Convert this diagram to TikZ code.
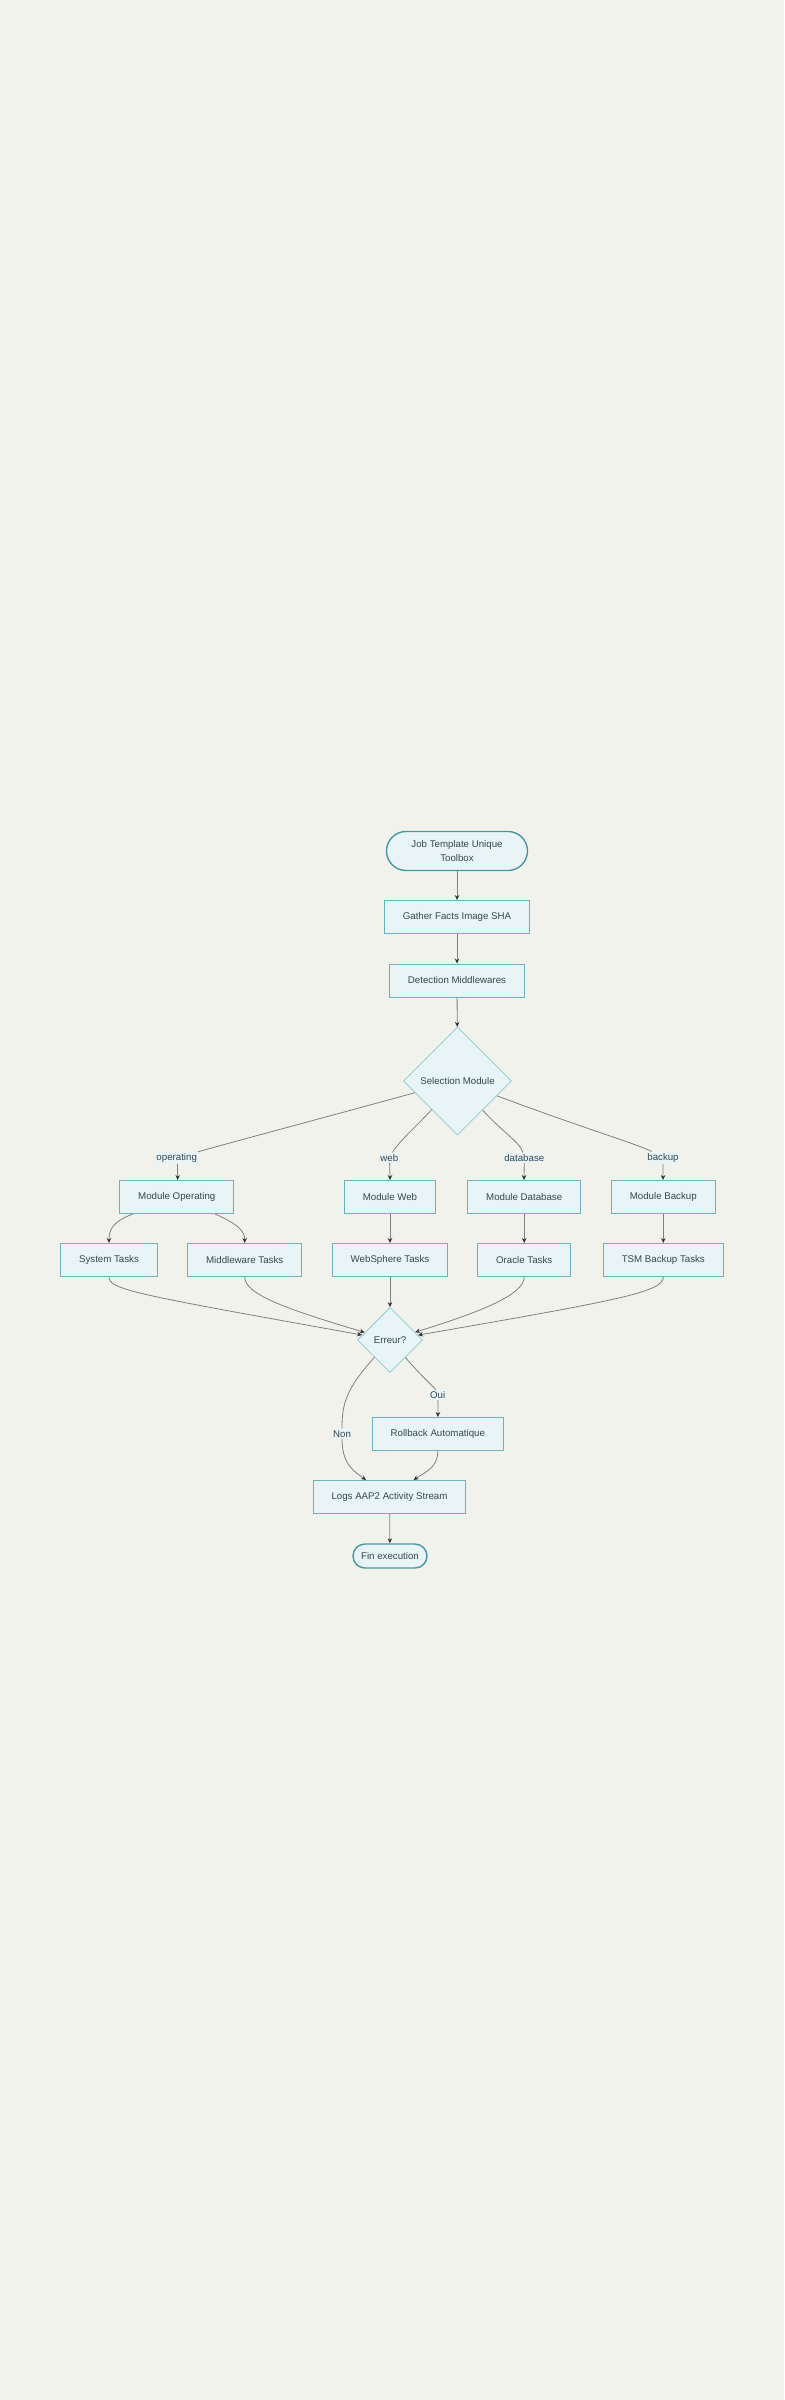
\documentclass[tikz,border=0pt]{standalone}
\usepackage{fontspec}
\setmainfont{Liberation Sans}
\usetikzlibrary{shapes.geometric,arrows.meta}
\definecolor{bgcol}{HTML}{F2F2ED}
\definecolor{nodefill}{HTML}{E8F4F5}
\definecolor{boxline}{HTML}{6DB2BC}
\definecolor{termline}{HTML}{4A97A2}
\definecolor{diamline}{HTML}{8ECAD2}
\definecolor{txtcol}{HTML}{37474F}
\definecolor{edgecol}{HTML}{808080}
\definecolor{tipcol}{HTML}{333333}
\begin{document}
\begin{tikzpicture}[x=1pt,y=-1pt,
    every node/.style={font=\fontsize{9.7}{14.7}\selectfont,text=txtcol},
    box/.style={draw=boxline,line width=1pt,fill=nodefill,inner xsep=18.5pt,minimum height=33pt},
    term/.style={draw=termline,line width=1.4pt,fill=nodefill,align=center},
    choice/.style={diamond,draw=diamline,line width=0.8pt,fill=nodefill,inner sep=0pt},
    lbl/.style={fill=nodefill,inner xsep=0.5pt,inner ysep=1.5pt},
    edge/.style={draw=edgecol,line width=0.8pt},
    arr/.style={edge,-{Stealth[length=5pt,width=4.5pt,color=tipcol]}}]
\fill [bgcol] (0,0) rectangle (784,2400);
\useasboundingbox (0,0) rectangle (784,2400);
\node [term,rounded corners=19.5pt,minimum width=141pt,minimum height=39pt] (start) at (457,851) {Job Template Unique\\Toolbox};
\node [box] (gather) at (457,917) {Gather Facts Image SHA};
\node [box] (detect) at (457,980.5) {Detection Middlewares};
\node [choice,minimum width=108pt,minimum height=108pt] (sel) at (457.5,1081) {Selection Module};
\node [lbl] (lop) at (176.7,1157.7) {operating};
\node [lbl] (lweb) at (389.3,1157.7) {web};
\node [lbl] (ldb) at (524.3,1157.7) {database};
\node [lbl] (lbk) at (663,1157.7) {backup};
\node [box] (modop) at (176.8,1197) {Module Operating};
\node [box] (modweb) at (390,1197) {Module Web};
\node [box] (moddb) at (524.2,1197) {Module Database};
\node [box] (modbk) at (663.3,1197) {Module Backup};
\node [box] (systasks) at (109,1260) {System Tasks};
\node [box] (midtasks) at (244.7,1260) {Middleware Tasks};
\node [box] (websphere) at (390,1260) {WebSphere Tasks};
\node [box] (oracle) at (524.2,1260) {Oracle Tasks};
\node [box] (tsm) at (663.3,1260) {TSM Backup Tasks};
\node [choice,minimum width=65pt,minimum height=65pt] (err) at (390,1340) {Erreur?};
\node [lbl] (loui) at (437.7,1395) {Oui};
\node [lbl] (lnon) at (342,1433.7) {Non};
\node [box] (rollback) at (437.8,1434) {Rollback Automatique};
\node [box] (logs) at (389.5,1497) {Logs AAP2 Activity Stream};
\node [term,rounded corners=12pt,minimum width=74pt,minimum height=24pt,inner sep=0pt] (fin) at (390,1556) {Fin execution};
\draw [arr] (start) -- (gather);
\draw [arr] (gather) -- (detect);
\draw [arr] (detect) -- (sel);
\draw [edge] (sel) .. controls (330,1116) and (240,1140) .. (lop);
\draw [edge] (sel) .. controls (415,1128) and (400,1140) .. (lweb);
\draw [edge] (sel) .. controls (500,1130) and (520,1142) .. (ldb);
\draw [edge] (sel) .. controls (580,1127) and (640,1145) .. (lbk);
\draw [arr] (lop) .. controls (178,1170) .. (modop);
\draw [arr] (lweb) .. controls (390,1170) .. (modweb);
\draw [arr] (ldb) .. controls (524,1170) .. (moddb);
\draw [arr] (lbk) .. controls (663,1170) .. (modbk);
\draw [arr] (modop) .. controls (112,1222) and (109,1230) .. (systasks);
\draw [arr] (modop) .. controls (240,1225) and (244.7,1232) .. (midtasks);
\draw [arr] (modweb) -- (websphere);
\draw [arr] (moddb) -- (oracle);
\draw [arr] (modbk) -- (tsm);
\draw [arr] (systasks.south) .. controls (109,1290) and (140,1295) .. (err);
\draw [arr] (midtasks.south) .. controls (244.7,1295) and (290,1310) .. (err);
\draw [arr] (websphere) -- (err);
\draw [arr] (oracle.south) .. controls (524,1295) and (480,1312) .. (err);
\draw [arr] (tsm.south) .. controls (663,1292) and (620,1300) .. (err);
\draw [edge] (err) .. controls (425,1380) and (435,1388) .. (loui);
\draw [arr] (loui) .. controls (438,1405) .. (rollback);
\draw [edge] (err) .. controls (345,1390) and (342,1405) .. (lnon);
\draw [arr] (lnon) .. controls (342,1465) and (355,1472) .. (logs);
\draw [arr] (rollback) .. controls (437.8,1468) and (425,1472) .. (logs);
\draw [arr] (logs) -- (fin);
\end{tikzpicture}
\end{document}
